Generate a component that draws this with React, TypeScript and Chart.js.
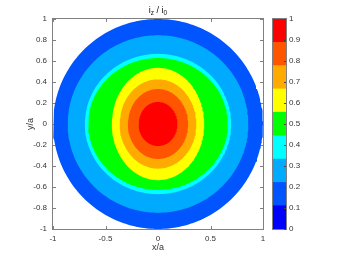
import React, { useEffect, useRef } from 'react';
import { Chart, registerables } from 'chart.js';

Chart.register(...registerables);

// Colour levels of the filled contour (9 bands between 0 and 1)
const LEVELS = [0, 0.111, 0.222, 0.333, 0.444, 0.556, 0.667, 0.778, 0.889, 1];
const LEVEL_COLORS = ['#0000FF', '#0055FF', '#00AAFF', '#00FFFF', '#00FF00', '#FFFF00', '#FFAA00', '#FF5500', '#FF0000'];

// Contour bands, outermost first: colour level and outer boundary semi-axes (x/a, y/a)
const BAND_LEVEL = [1, 2, 3, 4, 5, 6, 7, 8];
const BAND_RX = [1.0, 0.86, 0.697, 0.665, 0.44, 0.365, 0.287, 0.185];
const BAND_RY = [1.0, 0.845, 0.668, 0.628, 0.535, 0.425, 0.333, 0.21];

const X_TICKS = [-1, -0.5, 0, 0.5, 1];
const Y_TICKS = [-1, -0.8, -0.6, -0.4, -0.2, 0, 0.2, 0.4, 0.6, 0.8, 1];
const CB_TICKS = [0, 0.1, 0.2, 0.3, 0.4, 0.5, 0.6, 0.7, 0.8, 0.9, 1];

const W = 344;
const H = 258;
const AREA = { left: 53, right: 263, top: 19, bottom: 229 };
const CB = { left: 273, right: 286 };
const FONT = '"Liberation Sans", Arial, sans-serif';
const TEXT = '#333333';
const LINE = '#808080';

function ellipse(rx: number, ry: number) {
  const n = 240;
  const pts: { x: number; y: number }[] = [];
  for (let k = 0; k <= n; k++) {
    const t = (2 * Math.PI * k) / n;
    pts.push({ x: rx * Math.cos(t), y: ry * Math.sin(t) });
  }
  return pts;
}

const fmt = (v: number) => String(Number(v.toFixed(2)));

const framePlugin = {
  id: 'frame',
  beforeDatasetsDraw(chart: any) {
    const { ctx, chartArea: a, scales } = chart;
    ctx.save();
    ctx.strokeStyle = LINE;
    ctx.lineWidth = 1;
    ctx.strokeRect(a.left - 0.5, a.top - 0.5, a.right - a.left + 1, a.bottom - a.top + 1);
    ctx.beginPath();
    const tl = 3;
    X_TICKS.forEach((v) => {
      const px = Math.round(scales.x.getPixelForValue(v)) + 0.5;
      ctx.moveTo(px, a.bottom);
      ctx.lineTo(px, a.bottom - tl);
      ctx.moveTo(px, a.top);
      ctx.lineTo(px, a.top + tl);
    });
    Y_TICKS.forEach((v) => {
      const py = Math.round(scales.y.getPixelForValue(v)) + 0.5;
      ctx.moveTo(a.left, py);
      ctx.lineTo(a.left + tl, py);
      ctx.moveTo(a.right, py);
      ctx.lineTo(a.right - tl, py);
    });
    ctx.stroke();
    ctx.restore();
  },
  afterDraw(chart: any) {
    const { ctx, chartArea: a } = chart;
    const parts = [
      { t: 'i', sub: false },
      { t: 'z', sub: true },
      { t: ' / ', sub: false },
      { t: 'i', sub: false },
      { t: '0', sub: true },
    ];
    const mainFont = `9px ${FONT}`;
    const subFont = `6.5px ${FONT}`;
    ctx.save();
    let total = 0;
    const widths = parts.map((p) => {
      ctx.font = p.sub ? subFont : mainFont;
      const w = ctx.measureText(p.t).width;
      total += w;
      return w;
    });
    let x = (a.left + a.right) / 2 - total / 2;
    const base = 12.5;
    ctx.fillStyle = '#111111';
    ctx.textBaseline = 'alphabetic';
    ctx.textAlign = 'left';
    parts.forEach((p, i) => {
      ctx.font = p.sub ? subFont : mainFont;
      ctx.fillText(p.t, x, p.sub ? base + 2 : base);
      x += widths[i];
    });
    ctx.restore();
  },
};

const cbPlugin = {
  id: 'cbframe',
  afterDatasetsDraw(chart: any) {
    const { ctx, chartArea: a, scales } = chart;
    ctx.save();
    ctx.strokeStyle = LINE;
    ctx.lineWidth = 1;
    ctx.strokeRect(a.left - 0.5, a.top - 0.5, a.right - a.left + 1, a.bottom - a.top + 1);
    ctx.beginPath();
    CB_TICKS.forEach((v) => {
      const py = Math.round(scales.y.getPixelForValue(v)) + 0.5;
      ctx.moveTo(a.right, py);
      ctx.lineTo(a.right - 2, py);
    });
    ctx.strokeStyle = '#444444';
    ctx.stroke();
    ctx.restore();
  },
};

export default function App() {
  const mainRef = useRef<HTMLCanvasElement | null>(null);
  const cbRef = useRef<HTMLCanvasElement | null>(null);

  useEffect(() => {
    document.body.style.margin = '0';
    const tickFont = { family: FONT, size: 8 };
    const noGrid = { display: false, drawTicks: false, tickLength: 0 };

    const datasets = BAND_LEVEL.map((lvl, i) => ({
      label: `${LEVELS[lvl]}-${LEVELS[lvl + 1]}`,
      data: ellipse(BAND_RX[i], BAND_RY[i]),
      showLine: true,
      fill: 'shape',
      backgroundColor: LEVEL_COLORS[lvl],
      borderColor: LEVEL_COLORS[lvl],
      borderWidth: 0,
      pointRadius: 0,
      tension: 0,
    })).reverse();

    const main = new Chart(mainRef.current as HTMLCanvasElement, {
      type: 'scatter',
      data: { datasets: datasets as any },
      plugins: [framePlugin],
      options: {
        animation: false,
        responsive: false,
        devicePixelRatio: 1,
        layout: { padding: { left: 0, top: AREA.top, right: W - AREA.right, bottom: 0 } },
        plugins: { legend: { display: false }, tooltip: { enabled: false }, title: { display: false } },
        scales: {
          x: {
            type: 'linear',
            min: -1,
            max: 1,
            grid: noGrid,
            border: { display: false },
            afterBuildTicks: (s: any) => { s.ticks = X_TICKS.map((v) => ({ value: v })); },
            afterFit: (s: any) => { s.height = H - AREA.bottom; },
            ticks: { font: tickFont, color: TEXT, padding: 5, maxRotation: 0, autoSkip: false, callback: (v: any) => fmt(Number(v)) },
            title: { display: true, text: 'x/a', font: { family: FONT, size: 9 }, color: TEXT, padding: { top: 0, bottom: 5 } },
          },
          y: {
            type: 'linear',
            min: -1,
            max: 1,
            grid: noGrid,
            border: { display: false },
            afterBuildTicks: (s: any) => { s.ticks = Y_TICKS.map((v) => ({ value: v })); },
            afterFit: (s: any) => { s.width = AREA.left; },
            ticks: { font: tickFont, color: TEXT, padding: 6, autoSkip: false, callback: (v: any) => fmt(Number(v)) },
            title: { display: true, text: 'y/a', font: { family: FONT, size: 9 }, color: TEXT, padding: { top: 25, bottom: 0 } },
          },
        },
      } as any,
    });

    const cb = new Chart(cbRef.current as HTMLCanvasElement, {
      type: 'bar',
      data: {
        labels: ['cb'],
        datasets: LEVEL_COLORS.map((c, i) => ({
          label: `${LEVELS[i]}`,
          data: [LEVELS[i + 1] - LEVELS[i]],
          backgroundColor: c,
          borderWidth: 0,
          barPercentage: 1,
          categoryPercentage: 1,
        })),
      },
      plugins: [cbPlugin],
      options: {
        animation: false,
        responsive: false,
        devicePixelRatio: 1,
        layout: { padding: { left: CB.left, top: AREA.top, right: 0, bottom: H - AREA.bottom } },
        plugins: { legend: { display: false }, tooltip: { enabled: false } },
        scales: {
          x: { stacked: true, display: false },
          y: {
            stacked: true,
            position: 'right',
            min: 0,
            max: 1,
            grid: noGrid,
            border: { display: false },
            afterBuildTicks: (s: any) => { s.ticks = CB_TICKS.map((v) => ({ value: v })); },
            afterFit: (s: any) => { s.width = W - CB.right; },
            ticks: { font: tickFont, color: TEXT, padding: 3, autoSkip: false, callback: (v: any) => fmt(Number(v)) },
          },
        },
      } as any,
    });

    return () => {
      main.destroy();
      cb.destroy();
    };
  }, []);

  return (
    <div style={{ position: 'fixed', left: 0, top: 0, width: W, height: H, background: '#ffffff' }}>
      <canvas ref={mainRef} width={W} height={H} style={{ position: 'absolute', left: 0, top: 0 }} />
      <canvas ref={cbRef} width={W} height={H} style={{ position: 'absolute', left: 0, top: 0 }} />
    </div>
  );
}
